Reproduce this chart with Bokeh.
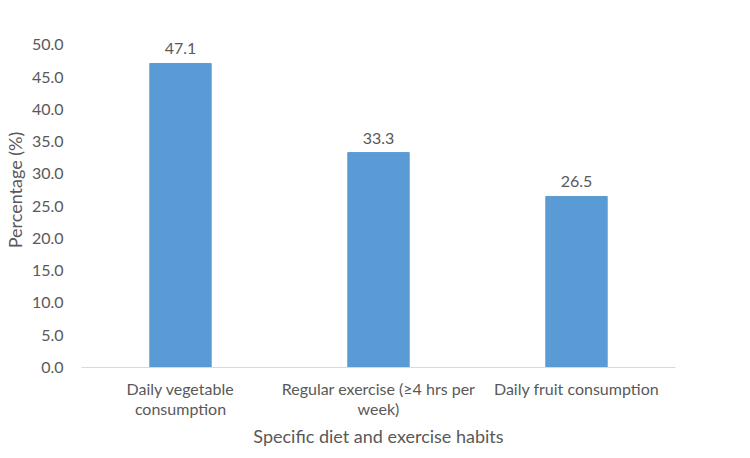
from bokeh.plotting import figure
from bokeh.models import ColumnDataSource, LabelSet, FixedTicker, Range1d
from bokeh.core.properties import value
from bokeh.embed import file_html
from bokeh.resources import INLINE

categories = ["Daily vegetable\nconsumption", "Regular exercise (≥4 hrs per\nweek)", "Daily fruit consumption"]
values = [47.1, 33.3, 26.5]
y_ticks = [0, 5, 10, 15, 20, 25, 30, 35, 40, 45, 50]

xs = [i + 0.5 for i in range(len(categories))]
src = ColumnDataSource(dict(x=xs, top=values, lab=[f"{v:.1f}" for v in values]))

FONT = "Lato"
TXT = "#595959"

p = figure(frame_width=594, frame_height=355, output_backend="svg", toolbar_location=None,
           x_range=Range1d(0, len(categories)), y_range=Range1d(0, 55),
           min_border_left=78, min_border_right=62, min_border_top=12, min_border_bottom=70)
p.outline_line_color = None
p.grid.grid_line_color = None

p.vbar(x="x", top="top", width=0.31, source=src, color="#5b9bd5")
p.add_layout(LabelSet(x="x", y="top", text="lab", source=src, text_align="center",
                      text_baseline="bottom", y_offset=9, text_font=value(FONT),
                      text_font_size="16px", text_color=TXT))

p.xaxis.ticker = FixedTicker(ticks=xs)
p.xaxis.major_label_overrides = {x: c for x, c in zip(xs, categories)}
p.xaxis.axis_line_color = "#d9d9d9"
p.xaxis.major_tick_line_color = None
p.xaxis.minor_tick_line_color = None
p.xaxis.major_label_standoff = 5
p.xaxis.major_label_text_font = FONT
p.xaxis.major_label_text_font_size = "16px"
p.xaxis.major_label_text_color = TXT
p.xaxis.major_label_text_line_height = 1.1
p.xaxis.axis_label = "Specific diet and exercise habits"
p.xaxis.axis_label_text_font = FONT
p.xaxis.axis_label_text_font_size = "18px"
p.xaxis.axis_label_text_font_style = "normal"
p.xaxis.axis_label_text_color = TXT
p.xaxis.axis_label_standoff = 4

p.yaxis.ticker = FixedTicker(ticks=y_ticks)
p.yaxis.major_label_overrides = {t: f"{t:.1f}" for t in y_ticks}
p.yaxis.axis_line_color = None
p.yaxis.major_tick_line_color = None
p.yaxis.minor_tick_line_color = None
p.yaxis.major_label_standoff = 12
p.yaxis.major_label_text_font = FONT
p.yaxis.major_label_text_font_size = "16px"
p.yaxis.major_label_text_color = TXT
p.yaxis.axis_label = "Percentage (%)"
p.yaxis.axis_label_text_font = FONT
p.yaxis.axis_label_text_font_size = "18px"
p.yaxis.axis_label_text_font_style = "normal"
p.yaxis.axis_label_text_color = TXT
p.yaxis.axis_label_standoff = 3

open("out.html", "w").write(file_html(p, INLINE))
